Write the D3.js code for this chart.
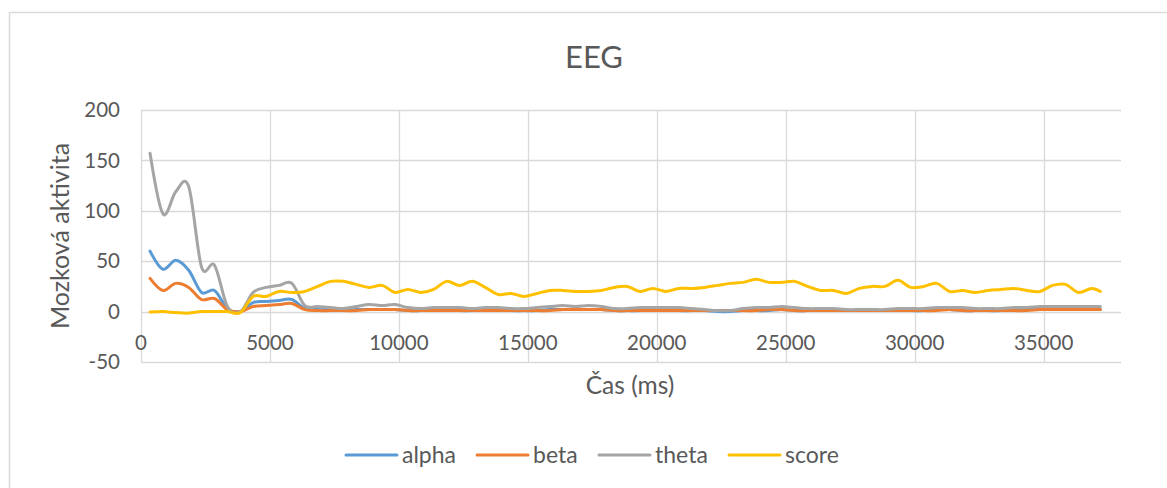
<!DOCTYPE html>
<html>
<head>
<meta charset="utf-8">
<script src="https://cdn.jsdelivr.net/npm/d3@7/dist/d3.min.js"></script>
<style>
  html, body { margin: 0; padding: 0; background: #fff; }
  svg { display: block; font-family: Lato, "Open Sans", sans-serif; }
</style>
</head>
<body>
<svg id="chart" width="1167" height="488"></svg>
<script>
// Sample times (ms)
const times = [350, 850, 1350, 1850, 2350, 2850, 3350, 3850, 4350, 4850,
  5350, 5850, 6350, 6850, 7350, 7850, 8350, 8850, 9350, 9850,
  10350, 10850, 11350, 11850, 12350, 12850, 13350, 13850, 14350, 14850,
  15350, 15850, 16350, 16850, 17350, 17850, 18350, 18850, 19350, 19850,
  20350, 20850, 21350, 21850, 22350, 22850, 23350, 23850, 24350, 24850,
  25350, 25850, 26350, 26850, 27350, 27850, 28350, 28850, 29350, 29850,
  30350, 30850, 31350, 31850, 32350, 32850, 33350, 33850, 34350, 34850,
  35350, 35850, 36350, 36850, 37200];

const alpha = [60, 42, 51, 41, 19, 21, 3, 0, 9, 10,
  11, 12, 3, 2, 2, 1, 2, 2, 2, 2,
  1, 1, 2, 2, 1, 1, 2, 2, 1, 1,
  1, 2, 2, 2, 2, 2, 1, 1, 1, 2,
  2, 1, 1, 1, 0, 0, 1, 1, 1, 2,
  1, 1, 1, 1, 1, 1, 1, 1, 1, 1,
  1, 2, 2, 1, 1, 1, 1, 2, 2, 2,
  2, 2, 2, 2, 2];

const beta = [33, 21, 28, 24, 12, 13, 2, 0, 5, 6,
  7, 8, 2, 1, 1, 1, 1, 2, 2, 2,
  1, 1, 1, 1, 1, 1, 1, 1, 1, 1,
  1, 1, 2, 2, 2, 2, 1, 1, 1, 1,
  1, 1, 1, 1, 1, 1, 1, 1, 2, 2,
  1, 1, 1, 1, 1, 1, 1, 1, 1, 1,
  1, 1, 2, 1, 1, 1, 1, 1, 1, 2,
  2, 2, 2, 2, 2];

const theta = [157, 97, 119, 124, 44, 46, 5, 0, 19, 24,
  26, 28, 6, 5, 4, 3, 5, 7, 6, 7,
  4, 3, 4, 4, 4, 3, 4, 4, 3, 3,
  4, 5, 6, 5, 6, 5, 3, 3, 4, 4,
  4, 4, 3, 2, 1, 1, 3, 4, 4, 5,
  4, 3, 3, 3, 2, 2, 2, 2, 3, 3,
  3, 4, 4, 4, 3, 3, 3, 4, 4, 5,
  5, 5, 5, 5, 5];

const score = [-0.5, 0, -1, -1.5, 0, 0, 0, -1, 15, 15,
  20, 19, 20, 25, 30, 30, 27, 24, 26, 19,
  22, 19, 22, 30, 26, 30, 24, 17, 18, 15,
  18, 21, 21, 20, 20, 21, 24, 25, 20, 23,
  20, 23, 23, 24, 26, 28, 29, 32, 29, 29,
  30, 25, 21, 21, 18, 23, 25, 25, 31, 24,
  25, 28, 20, 21, 19, 21, 22, 23, 21, 20,
  26, 27, 19, 23, 20];

const seriesNames = ["alpha", "beta", "theta", "score"];
const seriesValues = [alpha, beta, theta, score];
const seriesColors = ["#5B9BD5", "#ED7D31", "#A5A5A5", "#FFC000"];

const xTicks = [0, 5000, 10000, 15000, 20000, 25000, 30000, 35000];
const yTicks = [-50, 0, 50, 100, 150, 200];

const titleText = "EEG";
const xTitle = "Čas (ms)";
const yTitle = "Mozková aktivita";

const svg = d3.select("#chart");
const textColor = "#595959";
const gridColor = "#D9D9D9";

// Chart frame
svg.append("rect")
  .attr("x", 9.5).attr("y", 12.5)
  .attr("width", 1200).attr("height", 500)
  .attr("fill", "#fff")
  .attr("stroke", "#D9D9D9").attr("stroke-width", 1.5);

const x = d3.scaleLinear().domain([0, 38000]).range([141, 1121]);
const y = d3.scaleLinear().domain([-50, 200]).range([362, 110]);

// Horizontal gridlines
svg.append("g").selectAll("line").data(yTicks).join("line")
  .attr("x1", x(0)).attr("x2", x(38000))
  .attr("y1", d => Math.round(y(d)) + 0.5).attr("y2", d => Math.round(y(d)) + 0.5)
  .attr("stroke", gridColor).attr("stroke-width", 1.3);

// Vertical gridlines
svg.append("g").selectAll("line").data(xTicks).join("line")
  .attr("x1", d => Math.round(x(d)) + 0.5).attr("x2", d => Math.round(x(d)) + 0.5)
  .attr("y1", y(200)).attr("y2", y(-50))
  .attr("stroke", gridColor).attr("stroke-width", 1.3);

// Y tick labels
svg.append("g").selectAll("text").data(yTicks).join("text")
  .attr("x", 120).attr("y", d => y(d))
  .attr("dy", "0.35em")
  .attr("text-anchor", "end")
  .attr("fill", textColor).attr("font-size", 20.5)
  .text(d => d);

// X tick labels (below the zero line)
svg.append("g").selectAll("text").data(xTicks).join("text")
  .attr("x", d => x(d)).attr("y", 343)
  .attr("dy", "0.35em")
  .attr("text-anchor", "middle")
  .attr("fill", textColor).attr("font-size", 20.5)
  .text(d => d);

// Titles
svg.append("text")
  .attr("x", 594).attr("y", 57).attr("dy", "0.35em")
  .attr("text-anchor", "middle")
  .attr("fill", textColor).attr("font-size", 31)
  .text(titleText);

svg.append("text")
  .attr("x", 630).attr("y", 385).attr("dy", "0.35em")
  .attr("text-anchor", "middle")
  .attr("fill", textColor).attr("font-size", 24.5)
  .text(xTitle);

svg.append("text")
  .attr("transform", "translate(60,236) rotate(-90)")
  .attr("dy", "0.35em")
  .attr("text-anchor", "middle")
  .attr("fill", textColor).attr("font-size", 25)
  .text(yTitle);

// Smoothed series lines
const line = d3.line()
  .x(d => x(d[0]))
  .y(d => y(d[1]))
  .curve(d3.curveCardinal.tension(0));

seriesValues.forEach((vals, i) => {
  svg.append("path")
    .datum(times.map((t, j) => [t, vals[j]]))
    .attr("d", line)
    .attr("fill", "none")
    .attr("stroke", seriesColors[i])
    .attr("stroke-width", 3)
    .attr("stroke-linejoin", "round")
    .attr("stroke-linecap", "round");
});

// Legend
const legendX = [346, 477, 599, 729];
const legend = svg.append("g");
seriesNames.forEach((name, i) => {
  legend.append("line")
    .attr("x1", legendX[i]).attr("x2", legendX[i] + 51)
    .attr("y1", 455).attr("y2", 455)
    .attr("stroke", seriesColors[i])
    .attr("stroke-width", 3)
    .attr("stroke-linecap", "round");
  legend.append("text")
    .attr("x", legendX[i] + 56).attr("y", 455).attr("dy", "0.35em")
    .attr("fill", textColor).attr("font-size", 23)
    .text(name);
});
</script>
</body>
</html>
